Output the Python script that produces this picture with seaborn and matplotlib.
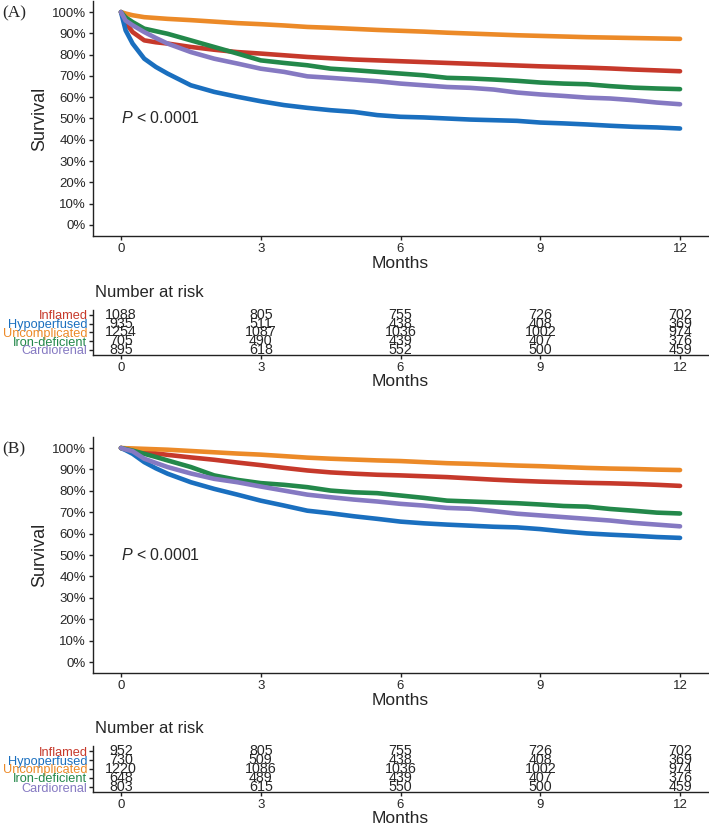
import numpy as np
import pandas as pd
import seaborn as sns
import matplotlib
matplotlib.use("Agg")
import matplotlib.pyplot as plt
from matplotlib import font_manager as fm

# groups, colours
groups = ['Inflamed', 'Hypoperfused', 'Uncomplicated', 'Iron-deficient', 'Cardiorenal']
colors = ['#C6392B', '#1A6FBF', '#EC8A28', '#23884A', '#8579C2']

months = [0, 0.1, 0.25, 0.5, 0.75, 1, 1.5, 2, 2.5, 3, 3.5, 4, 4.5, 5, 5.5, 6,
          6.5, 7, 7.5, 8, 8.5, 9, 9.5, 10, 10.5, 11, 11.5, 12]

# (A) survival in %
surv_a = {
    'Inflamed':       [100, 95.0, 90.6, 86.7, 85.8, 85.2, 83.6, 82.3, 81.2, 80.5, 79.7, 78.9, 78.3, 77.7, 77.3, 76.9,
                       76.5, 76.1, 75.7, 75.3, 74.9, 74.5, 74.2, 73.9, 73.5, 73.0, 72.6, 72.2],
    'Hypoperfused':   [100, 91.4, 85.2, 78.1, 74.2, 71.1, 65.6, 62.5, 60.2, 58.1, 56.3, 55.0, 53.9, 53.1, 51.6, 50.8,
                       50.5, 50.0, 49.5, 49.2, 48.9, 48.1, 47.7, 47.2, 46.6, 46.1, 45.8, 45.3],
    'Uncomplicated':  [100, 99.3, 98.5, 97.6, 97.2, 96.8, 96.2, 95.5, 94.8, 94.3, 93.7, 93.0, 92.6, 92.1, 91.6, 91.2,
                       90.8, 90.3, 89.9, 89.5, 89.1, 88.8, 88.5, 88.2, 88.0, 87.8, 87.6, 87.4],
    'Iron-deficient': [100, 97.5, 95.3, 92.2, 91.0, 89.8, 86.7, 83.6, 80.5, 77.3, 76.1, 75.0, 73.4, 72.7, 71.9, 71.1,
                       70.3, 69.1, 68.8, 68.3, 67.7, 66.9, 66.4, 66.1, 65.2, 64.5, 64.1, 63.8],
    'Cardiorenal':    [100, 96.0, 93.8, 90.6, 87.8, 85.2, 81.2, 78.1, 75.8, 73.4, 71.9, 69.8, 69.1, 68.3, 67.5, 66.4,
                       65.6, 64.8, 64.4, 63.6, 62.2, 61.3, 60.6, 59.8, 59.4, 58.6, 57.5, 56.7],
}

# (B)
surv_b = {
    'Inflamed':       [100, 99.6, 99.1, 98.3, 97.5, 96.8, 95.6, 94.5, 93.2, 92.0, 90.7, 89.5, 88.6, 88.0, 87.5, 87.2,
                       86.8, 86.4, 85.8, 85.2, 84.7, 84.3, 84.0, 83.7, 83.5, 83.2, 82.8, 82.3],
    'Hypoperfused':   [100, 99.0, 97.3, 93.4, 90.5, 88.0, 84.0, 80.9, 78.2, 75.4, 73.1, 70.7, 69.5, 68.1, 66.9, 65.6,
                       64.8, 64.2, 63.7, 63.2, 62.9, 62.1, 61.0, 60.1, 59.5, 59.0, 58.4, 58.0],
    'Uncomplicated':  [100, 99.9, 99.8, 99.6, 99.4, 99.2, 98.6, 98.0, 97.4, 96.9, 96.2, 95.5, 95.0, 94.6, 94.2, 93.9,
                       93.4, 92.9, 92.6, 92.2, 91.8, 91.5, 91.1, 90.7, 90.4, 90.2, 89.9, 89.7],
    'Iron-deficient': [100, 99.5, 98.8, 97.3, 95.8, 94.2, 91.1, 87.2, 85.1, 83.6, 82.8, 81.7, 80.1, 79.3, 78.9, 77.8,
                       76.7, 75.4, 75.0, 74.6, 74.2, 73.6, 72.9, 72.6, 71.5, 70.7, 69.8, 69.4],
    'Cardiorenal':    [100, 99.3, 98.5, 95.0, 93.0, 91.1, 88.1, 85.6, 84.0, 82.0, 80.1, 78.2, 77.0, 75.9, 75.0, 73.9,
                       73.1, 72.0, 71.6, 70.5, 69.3, 68.5, 67.7, 66.9, 66.1, 65.0, 64.2, 63.4],
}

risk_times = [0, 3, 6, 9, 12]
risk_a = {
    'Inflamed':       [1088, 805, 755, 726, 702],
    'Hypoperfused':   [935, 511, 438, 408, 369],
    'Uncomplicated':  [1254, 1087, 1036, 1002, 974],
    'Iron-deficient': [705, 490, 439, 407, 376],
    'Cardiorenal':    [895, 618, 552, 500, 459],
}
risk_b = {
    'Inflamed':       [952, 805, 755, 726, 702],
    'Hypoperfused':   [730, 509, 438, 408, 369],
    'Uncomplicated':  [1220, 1086, 1036, 1002, 974],
    'Iron-deficient': [648, 489, 439, 407, 376],
    'Cardiorenal':    [803, 615, 550, 500, 459],
}

sns.set_style("ticks")
names = {f.name for f in fm.fontManager.ttflist}
sans = 'Liberation Sans Narrow' if 'Liberation Sans Narrow' in names else 'Liberation Sans'
plt.rcParams['font.family'] = [sans, 'DejaVu Sans']
plt.rcParams['mathtext.fontset'] = 'custom'
plt.rcParams['mathtext.it'] = sans + ':italic'
plt.rcParams['mathtext.rm'] = sans
plt.rcParams['axes.linewidth'] = 1.0
plt.rcParams['axes.edgecolor'] = '#222222'

W, H = 709, 826
fig = plt.figure(figsize=(W / 100, H / 100), dpi=100)


def px_axes(left, top, right, bottom):
    return fig.add_axes([left / W, 1 - bottom / H, (right - left) / W, (bottom - top) / H])


def style_ax(ax):
    sns.despine(ax=ax)
    ax.tick_params(axis='both', length=3, width=1, color='#222222', labelsize=9.5, pad=2)
    ax.set_xlim(-0.6, 12.6)
    ax.set_xticks(risk_times)


def km_panel(top, bottom, surv, letter):
    ax = px_axes(93, top, 708, bottom)
    rows = []
    for g in groups:
        for t, s in zip(months, surv[g]):
            rows.append((g, t, s / 100))
    df = pd.DataFrame(rows, columns=['group', 'time', 'surv'])
    sns.lineplot(data=df, x='time', y='surv', hue='group', hue_order=groups,
                 palette=colors, estimator=None, linewidth=3.3,
                 legend=False, ax=ax)
    style_ax(ax)
    ax.set_ylim(-0.05, 1.05)
    ax.set_yticks(np.arange(0, 1.01, 0.1))
    ax.set_yticklabels(['%d%%' % (v * 10) for v in range(11)])
    ax.set_xlabel('Months', fontsize=12.5, labelpad=1)
    ax.set_ylabel('Survival', fontsize=13, labelpad=3)
    ax.text(0, 0.5, r'$P$ < 0.0001', fontsize=11.5, ha='left', va='center')
    fig.text(2 / W, 1 - (top + 12) / H, letter, family='Liberation Serif',
             fontsize=12.5, ha='left', va='center')
    return ax


def risk_table(top, bottom, risk):
    ax = px_axes(93, top, 708, bottom)
    style_ax(ax)
    ax.set_ylim(0.4, 5.6)
    ypos = [5, 4, 3, 2, 1]
    ax.set_yticks(ypos)
    ax.set_yticklabels(groups, fontsize=9.2)
    for lab, c in zip(ax.get_yticklabels(), colors):
        lab.set_color(c)
    ax.tick_params(axis='y', length=3, pad=1)
    for g, y in zip(groups, ypos):
        for t, n in zip(risk_times, risk[g]):
            ax.text(t, y, str(n), fontsize=10.3, ha='center', va='center')
    ax.set_xlabel('Months', fontsize=12.5, labelpad=0)
    ax.set_ylabel('')
    fig.text(95 / W, 1 - (top - 17) / H, 'Number at risk', fontsize=12,
             ha='left', va='center')
    return ax


km_panel(1.4, 235.6, surv_a, '(A)')
risk_table(309.75, 355, risk_a)
km_panel(437.3, 672.7, surv_b, '(B)')
risk_table(745.6, 792.4, risk_b)

fig.savefig('out.png', dpi=100)
